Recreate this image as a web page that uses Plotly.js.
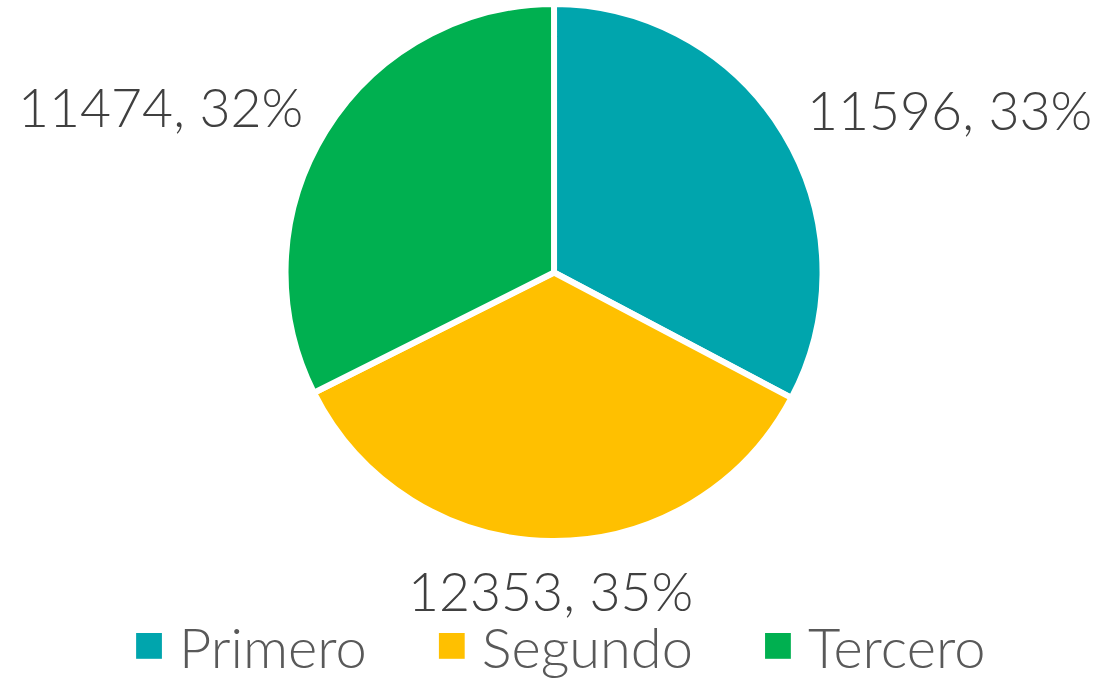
<!DOCTYPE html>
<html>
<head>
<meta charset="utf-8">
<script src="https://cdn.plot.ly/plotly-3.0.1.min.js"></script>
<style>html,body{margin:0;padding:0;background:#fff;}#chart{width:1102px;height:682px;}</style>
</head>
<body>
<div id="chart"></div>
<script>
const categories = ["Primero", "Segundo", "Tercero"];
const values = [11596, 12353, 11474];
const colors = ["#00A5AD", "#FFC000", "#00B050"];

const W = 1102, H = 682;
const domX = [0.2591, 0.7464];
const domY = [0.2067, 0.9941];
const FONT = "Lato, 'Open Sans', sans-serif";

const trace = {
  type: "pie",
  labels: categories,
  values: values,
  sort: false,
  direction: "clockwise",
  rotation: 0,
  marker: {colors: colors, line: {color: "#ffffff", width: 6}},
  textinfo: "none",
  hoverinfo: "label+value+percent",
  automargin: false,
  domain: {x: domX, y: domY}
};

// data labels: "value, percent" placed just outside each slice's mid-angle
const total = values.reduce((a, b) => a + b, 0);
const cx = (domX[0] + domX[1]) / 2 * W;
const cy = (1 - (domY[0] + domY[1]) / 2) * H;
const R = Math.min((domX[1] - domX[0]) * W, (domY[1] - domY[0]) * H) / 2 - 3;
let cum = 0;
const annotations = values.map((v, i) => {
  const mid = (cum + v / 2) / total;
  cum += v;
  const th = mid * 2 * Math.PI;
  const s = Math.sin(th), c = Math.cos(th);
  const px = cx + R * s + s * 27;
  const py = cy - R * c - c * 52;
  const xanchor = s > 0.2 ? "left" : (s < -0.2 ? "right" : "center");
  return {
    xref: "paper", yref: "paper",
    x: px / W, y: 1 - py / H,
    xanchor: xanchor, yanchor: "middle",
    showarrow: false,
    text: v + ", " + Math.round(v / total * 100) + "%",
    font: {family: FONT, size: 53.5, color: "#404040", weight: 300}
  };
});

const layout = {
  width: W,
  height: H,
  margin: {l: 0, r: 0, t: 0, b: 0, autoexpand: false},
  paper_bgcolor: "#ffffff",
  showlegend: true,
  annotations: annotations,
  legend: {
    orientation: "h",
    xref: "container", yref: "container",
    x: 0.108, xanchor: "left",
    y: 0.0, yanchor: "bottom",
    font: {family: FONT, size: 56, color: "#595959", weight: 300},
    itemwidth: 50,
    entrywidth: 250,
    traceorder: "normal"
  }
};

function readTranslate(el) {
  const m = /translate\(\s*([-\d.e]+)[ ,]+([-\d.e]+)\s*\)/.exec(el.getAttribute("transform") || "");
  return m ? {x: parseFloat(m[1]), y: parseFloat(m[2])} : {x: 0, y: 0};
}

Plotly.newPlot("chart", [trace], layout, {displayModeBar: false, staticPlot: true}).then(gd => {
  // larger square legend swatches, no white outline
  gd.querySelectorAll(".legend .legendpoints path").forEach(p => {
    const t = p.getAttribute("transform") || "";
    p.setAttribute("transform", t + " scale(2.15)");
    p.style.strokeWidth = "0px";
  });
  // natural-width legend entries with a wider gap between them
  const items = gd.querySelectorAll(".legend g.traces");
  if (items.length) {
    let x = readTranslate(items[0]).x;
    items.forEach(g => {
      const t = readTranslate(g);
      g.setAttribute("transform", "translate(" + x + "," + t.y + ")");
      const txt = g.querySelector("text.legendtext");
      const tw = txt ? txt.getBBox().width : 150;
      x += 60 + tw + 55;
    });
  }
  const leg = gd.querySelector("g.legend");
  if (leg) {
    const t = readTranslate(leg);
    leg.setAttribute("transform", "translate(" + t.x + "," + (t.y + 7) + ")");
  }
});
</script>
</body>
</html>
